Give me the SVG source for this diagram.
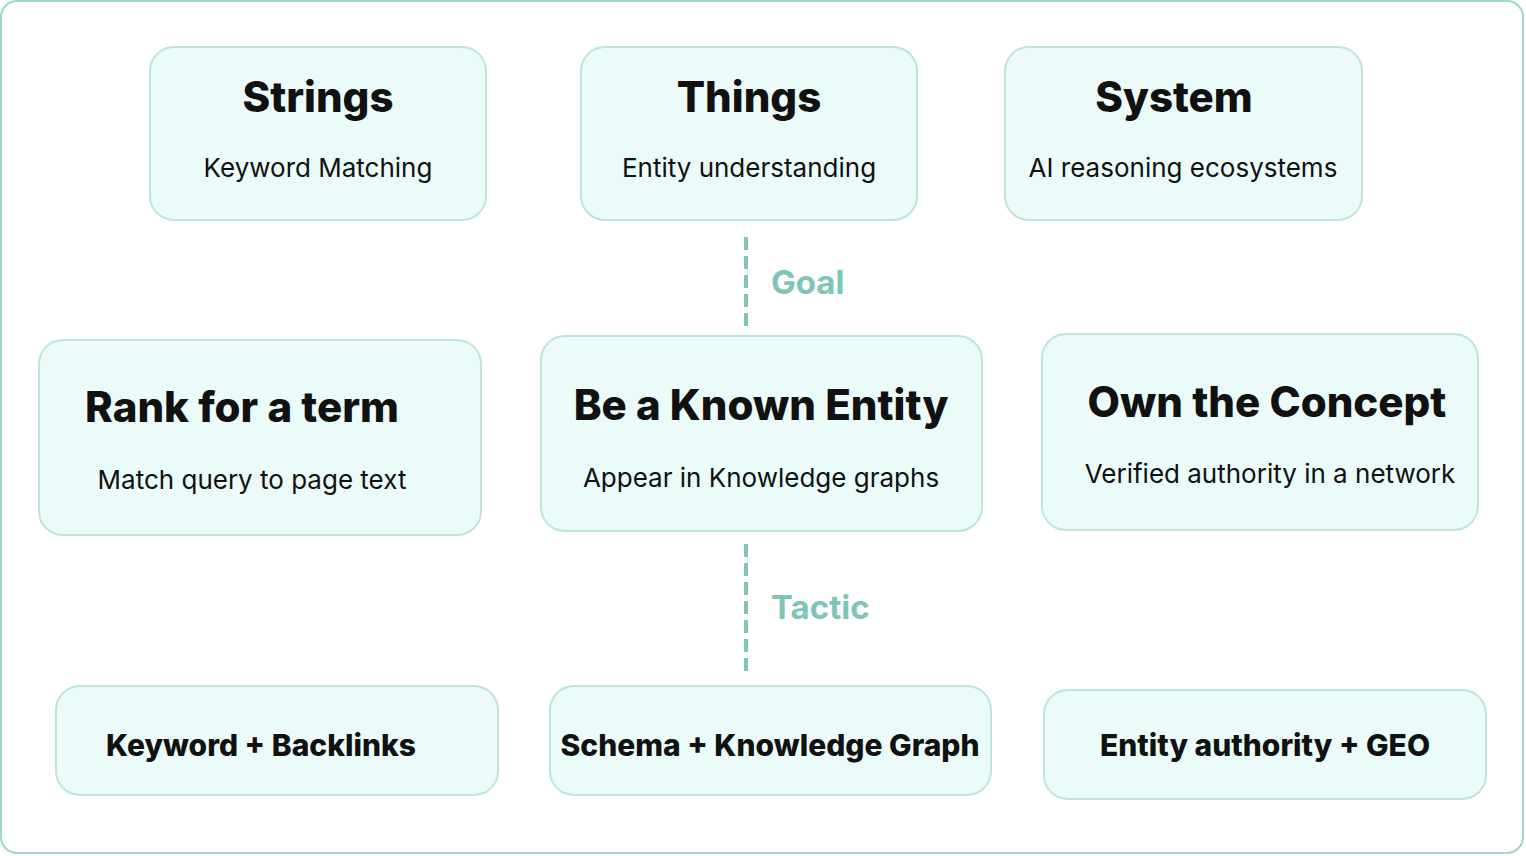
<svg xmlns="http://www.w3.org/2000/svg" width="1526" height="856" viewBox="0 0 1526 856">
<style>
.n{fill:#eafbf9;stroke:#bfe4dc;stroke-width:2}
.t{font-family:Inter,"Liberation Sans",sans-serif;font-weight:800;fill:#111;text-anchor:middle}
.s{font-family:Inter,"Liberation Sans",sans-serif;font-size:26px;fill:#111;text-anchor:middle}
.c{stroke:#7fc4b9;stroke-width:4;stroke-dasharray:13,6;fill:none}
.l{font-family:Inter,"Liberation Sans",sans-serif;font-weight:700;font-size:33px;fill:#7fc4b9}
</style>
<rect x="1" y="1" width="1522" height="852" rx="16" fill="#fff" stroke="#9fd6cc" stroke-width="2"/>
<g id="strings"><rect class="n" x="150" y="47" width="336" height="173" rx="24"/><text class="t" x="318" y="112" font-size="42">Strings</text><text class="s" x="318" y="177">Keyword Matching</text></g>
<g id="things"><rect class="n" x="581" y="47" width="336" height="173" rx="24"/><text class="t" x="749" y="112" font-size="42">Things</text><text class="s" x="749" y="177">Entity understanding</text></g>
<g id="system"><rect class="n" x="1005" y="47" width="357" height="173" rx="24"/><text class="t" x="1174" y="112" font-size="42">System</text><text class="s" x="1183" y="177">AI reasoning ecosystems</text></g>
<g id="rank"><rect class="n" x="39" y="340" width="442" height="195" rx="24"/><text class="t" x="242" y="422" font-size="42">Rank for a term</text><text class="s" x="252" y="489">Match query to page text</text></g>
<g id="known"><rect class="n" x="541" y="336" width="441" height="195" rx="24"/><text class="t" x="761" y="420" font-size="42">Be a Known Entity</text><text class="s" x="761" y="487">Appear in Knowledge graphs</text></g>
<g id="own"><rect class="n" x="1042" y="334" width="436" height="196" rx="24"/><text class="t" x="1267" y="417" font-size="42">Own the Concept</text><text class="s" x="1270" y="483">Verified authority in a network</text></g>
<g id="kb"><rect class="n" x="56" y="686" width="442" height="109" rx="24"/><text class="t" x="261" y="756" font-size="30">Keyword + Backlinks</text></g>
<g id="schema"><rect class="n" x="550" y="686" width="441" height="109" rx="24"/><text class="t" x="770" y="756" font-size="30">Schema + Knowledge Graph</text></g>
<g id="ea"><rect class="n" x="1044" y="690" width="442" height="109" rx="24"/><text class="t" x="1265" y="756" font-size="30">Entity authority + GEO</text></g>
<g id="connectors">
<line class="c" x1="746" y1="237" x2="746" y2="332"/>
<text class="l" x="771" y="294">Goal</text>
<line class="c" x1="746" y1="544" x2="746" y2="676"/>
<text class="l" x="771" y="619">Tactic</text>
</g>
</svg>
